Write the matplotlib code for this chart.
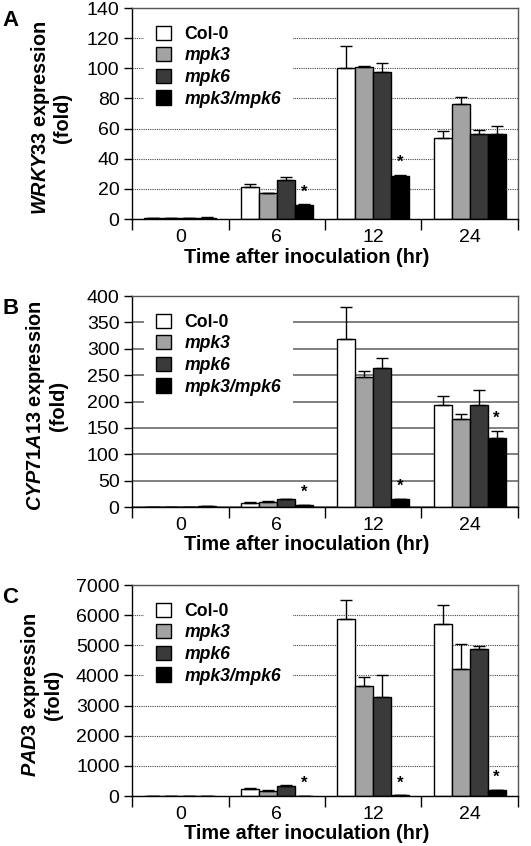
import matplotlib
matplotlib.use("Agg")
import matplotlib.pyplot as plt
import numpy as np

plt.rcParams['font.family'] = ['Liberation Sans', 'DejaVu Sans']
plt.rcParams['mathtext.fontset'] = 'custom'
plt.rcParams['mathtext.it'] = 'Liberation Sans:italic:bold'
plt.rcParams['mathtext.rm'] = 'Liberation Sans:bold'
plt.rcParams['mathtext.bf'] = 'Liberation Sans:bold'

times = ["0", "6", "12", "24"]
genotypes = ["Col-0", "mpk3", "mpk6", "mpk3/mpk6"]
colors = ["#ffffff", "#a3a3a3", "#3a3a3a", "#000000"]

# Panel A: WRKY33
wrky33_mean = {
    "Col-0":     [0.6, 21.5, 100.5, 54.0],
    "mpk3":      [0.8, 17.0, 101.0, 76.5],
    "mpk6":      [0.8, 26.0, 97.5, 56.5],
    "mpk3/mpk6": [1.0, 9.3, 28.8, 56.5],
}
wrky33_err = {
    "Col-0":     [0.1, 1.7, 14.0, 4.6],
    "mpk3":      [0.1, 0.6, 0.6, 4.6],
    "mpk6":      [0.1, 1.7, 6.0, 2.4],
    "mpk3/mpk6": [0.1, 0.6, 0.6, 5.0],
}
# Panel B: CYP71A13
cyp_mean = {
    "Col-0":     [0.3, 8.0, 318.0, 194.0],
    "mpk3":      [0.3, 9.5, 246.0, 166.0],
    "mpk6":      [0.5, 15.0, 263.0, 194.0],
    "mpk3/mpk6": [2.5, 3.8, 14.5, 130.0],
}
cyp_err = {
    "Col-0":     [0.1, 1.0, 62.0, 16.0],
    "mpk3":      [0.1, 1.0, 12.0, 11.0],
    "mpk6":      [0.1, 1.0, 20.0, 28.0],
    "mpk3/mpk6": [0.3, 0.5, 1.5, 15.0],
}
# Panel C: PAD3
pad3_mean = {
    "Col-0":     [1, 235, 5880, 5700],
    "mpk3":      [1, 165, 3640, 4200],
    "mpk6":      [1, 330, 3270, 4880],
    "mpk3/mpk6": [1, 8, 33, 185],
}
pad3_err = {
    "Col-0":     [0, 30, 620, 650],
    "mpk3":      [0, 25, 320, 830],
    "mpk6":      [0, 25, 760, 110],
    "mpk3/mpk6": [0, 2, 5, 25],
}

panels = [
    dict(letter="A", gene="WRKY33", mean=wrky33_mean, err=wrky33_err,
         yticks=list(range(0, 141, 20)), ymax=140, grid="dotted",
         stars=[1, 2], star_off=3.0, pos=[0.2486, 0.7411, 0.7269, 0.2494]),
    dict(letter="B", gene="CYP71A13", mean=cyp_mean, err=cyp_err,
         yticks=list(range(0, 401, 50)), ymax=400, grid="solid",
         stars=[1, 2, 3], star_off=9.0, pos=[0.2486, 0.4007, 0.7269, 0.2494]),
    dict(letter="C", gene="PAD3", mean=pad3_mean, err=pad3_err,
         yticks=list(range(0, 7001, 1000)), ymax=7000, grid="dotted",
         stars=[1, 2, 3], star_off=150.0, pos=[0.2486, 0.0591, 0.7269, 0.2494]),
]

fig = plt.figure(figsize=(5.31, 8.46), dpi=100)
w = 0.186
x = np.arange(len(times))
label_x = {"A": -0.155, "B": -0.166, "C": -0.179}

for p in panels:
    ax = fig.add_axes(p["pos"])
    ax.set_axisbelow(True)
    for i, g in enumerate(genotypes):
        m = np.array(p["mean"][g], dtype=float)
        e = np.array(p["err"][g], dtype=float)
        ax.bar(x + (i - 1.5) * w, m, width=w, color=colors[i], edgecolor="black",
               linewidth=1.0, label=g, zorder=2,
               yerr=[np.zeros_like(e), e], capsize=4.3,
               error_kw=dict(ecolor="black", elinewidth=1.0, capthick=1.0, zorder=3))
    # stars above the double mutant
    dm = np.array(p["mean"]["mpk3/mpk6"], dtype=float)
    de = np.array(p["err"]["mpk3/mpk6"], dtype=float)
    for k in p["stars"]:
        ax.text(x[k] + 1.5 * w, dm[k] + de[k] + p["star_off"], "*", ha="center",
                va="bottom", fontsize=12, fontweight="bold", zorder=4)

    ax.set_xlim(-0.5, 3.5)
    ax.set_ylim(0, p["ymax"])
    ax.set_yticks(p["yticks"])
    ax.set_yticklabels([str(v) for v in p["yticks"]], fontsize=14)
    ax.set_xticks(x)
    ax.set_xticklabels(times, fontsize=14)
    ax.set_xticks(np.arange(-0.5, 3.6, 1.0), minor=True)
    ax.tick_params(axis="x", which="major", length=0, pad=7)
    ax.tick_params(axis="x", which="minor", length=8, width=1.0, direction="out")
    ax.tick_params(axis="y", which="major", length=6, width=1.0, direction="out", pad=3)

    if p["grid"] == "dotted":
        ax.yaxis.grid(True, linestyle=(0, (1, 1)), color="#444444", linewidth=0.8)
    else:
        ax.yaxis.grid(True, linestyle="-", color="#5e5e5e", linewidth=1.1)

    for s in ["left", "bottom"]:
        ax.spines[s].set_color("black")
        ax.spines[s].set_linewidth(1.0)
    for s in ["top", "right"]:
        ax.spines[s].set_color("#555555")
        ax.spines[s].set_linewidth(1.0)

    ax.set_xlabel("Time after inoculation (hr)", fontsize=14.3, fontweight="bold")
    ax.xaxis.set_label_coords(0.453, -0.135)
    ax.set_ylabel(r"$\mathit{" + p["gene"] + r"}$ expression" + "\n(fold)",
                  fontsize=14.3, fontweight="bold", linespacing=1.1)
    ax.yaxis.set_label_coords(label_x[p["letter"]], 0.48)

    leg = ax.legend(loc="upper left", bbox_to_anchor=(0.03, 0.975), fontsize=12.7,
                    frameon=True, facecolor="white", edgecolor="none", framealpha=1.0,
                    fancybox=False, handlelength=0.86, handleheight=0.86,
                    handletextpad=0.75, labelspacing=0.25, borderpad=0.7,
                    borderaxespad=0.0)
    for j, t in enumerate(leg.get_texts()):
        t.set_fontweight("bold")
        if j > 0:
            t.set_fontstyle("italic")
    leg.set_zorder(5)

    fig.text(0.004, p["pos"][1] + p["pos"][3] - 0.002, p["letter"], fontsize=16,
             fontweight="bold", ha="left", va="top")

fig.savefig("out.png", dpi=100)
